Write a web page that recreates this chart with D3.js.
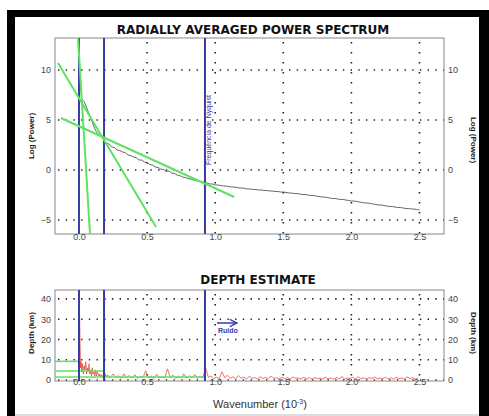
<!doctype html>
<html>
<head>
<meta charset="utf-8">
<script src="https://cdnjs.cloudflare.com/ajax/libs/d3/7.8.5/d3.min.js"></script>
<style>
  body { margin: 0; background: #fff; }
  .tick text { font-family: "Liberation Sans", Arial, sans-serif; font-size: 9px; fill: #444; }
  .title { font-family: "DejaVu Sans", Verdana, sans-serif; font-weight: bold; font-size: 12px; fill: #111; }
  .ylab { font-family: "Liberation Sans", Arial, sans-serif; font-weight: bold; font-size: 8px; fill: #222; }
</style>
</head>
<body>
<svg width="489" height="416"></svg>
<script>
// wavenumber ticks and gridlines
var kTicks = [0, 0.5, 1.0, 1.5, 2.0, 2.5];
var powerTicks = [-5, 0, 5, 10];
var depthTicks = [0, 10, 20, 30, 40];

// blue markers (interval limits and Nyquist)
var cutoffs = [0.0, 0.184, 0.925];

// radially averaged power spectrum, sampled every 0.02
var specStep = 0.02;
var specPower = [10.6, 7.1, 6.8, 6.1, 5.4, 4.7, 4.0, 3.6, 3.4, 3.1,
  2.7, 2.6, 2.3, 2.25, 2.0, 1.95, 1.8, 1.75, 1.5, 1.45,
  1.3, 1.25, 1.0, 1.0, 0.8, 0.75, 0.55, 0.5, 0.3, 0.25,
  0.1, 0.05, -0.15, -0.1, -0.3, -0.35, -0.5, -0.55, -0.7, -0.75,
  -0.85, -0.9, -1.0, -1.05, -1.15, -1.15, -1.25, -1.3, -1.4, -1.4,
  -1.5, -1.5, -1.55, -1.6, -1.6, -1.65, -1.7, -1.7, -1.75, -1.8,
  -1.8, -1.85, -1.9, -1.9, -1.95, -1.95, -2.0, -2.0, -2.05, -2.05,
  -2.1, -2.1, -2.15, -2.15, -2.2, -2.2, -2.25, -2.3, -2.3, -2.35,
  -2.35, -2.4, -2.45, -2.45, -2.5, -2.55, -2.55, -2.6, -2.65, -2.7,
  -2.7, -2.75, -2.8, -2.85, -2.85, -2.9, -2.95, -2.95, -3.0, -3.05,
  -3.1, -3.1, -3.15, -3.2, -3.25, -3.3, -3.3, -3.35, -3.4, -3.45,
  -3.5, -3.5, -3.55, -3.6, -3.65, -3.65, -3.7, -3.75, -3.75, -3.8,
  -3.85, -3.85, -3.9, -3.9, -3.95, -4.0];

// fitted straight segments on the spectrum
var fitK0 = [-0.007, -0.154, -0.132];
var fitP0 = [13.2, 10.7, 5.2];
var fitK1 = [0.081, 0.566, 1.14];
var fitP1 = [-6.4, -5.7, -2.7];

// depth estimate, near the origin (irregular samples)
var depthNearK = [0.000, 0.004, 0.008, 0.012, 0.016, 0.020, 0.026, 0.032, 0.038, 0.044,
  0.050, 0.056, 0.062, 0.068, 0.074, 0.080, 0.086, 0.092, 0.098, 0.104,
  0.110, 0.116, 0.122, 0.128, 0.134, 0.140, 0.146, 0.152, 0.158, 0.164,
  0.170, 0.176, 0.182, 0.188, 0.194, 0.200];
var depthNear = [0, 33, 18, 6, 9, 4, 8, 3, 7, 5,
  9, 3, 6, 4, 8, 3, 5, 2, 6, 3,
  4, 2, 5, 2, 4, 3, 2, 3, 1.5, 2.5,
  1.5, 2, 4, 1, 3, 1.5];
// depth estimate from 0.21 on, every 0.02
var depthFarStart = 0.21;
var depthFarStep = 0.02;
var depthFar = [2.5, 1, 3, 1.5, 2, 0.8, 3, 1.2, 2.2, 1,
  2.6, 0.8, 1.8, 1.2, 4.5, 1, 2, 0.7, 2.8, 1,
  1.6, 0.9, 5.5, 1.2, 2.4, 0.8, 1.9, 1.1, 3, 0.9,
  2.1, 1, 2.7, 0.8, 1.7, 1, 6, 1.3, 2, 0.6,
  1.4, 0.7, 4, 1.2, 2.3, 0.8, 1.6, 0.6, 2.2, 0.9,
  1.4, 0.5, 1.8, 0.8, 1.2, 0.5, 1.6, 0.7, 1.3, 0.6,
  2, 0.8, 1.1, 0.5, 1.4, 0.7, 1.2, 0.4, 1.5, 0.8,
  1, 0.5, 1.3, 0.6, 1.1, 0.4, 1.2, 0.7, 0.9, 0.5,
  1.3, 0.6, 1, 0.4, 1.2, 0.6, 1.7, 0.5, 1.1, 0.7,
  1.3, 0.5, 1.6, 0.6, 1.1, 0.4, 1.2, 0.7, 1.5, 0.5,
  1, 0.6, 1.4, 0.5, 1.1, 0.4, 1.3, 0.6, 1, 0.5,
  1.5, 0.6, 1.2, 0.4, 0.9];

// depth levels of the fitted segments
var levelDepth = [9.2, 4.4, 1.5];
var levelEnd = [0.0, 0.184, 0.925];

var svg = d3.select("svg");

// outer black frame
svg.append("rect").attr("x", 7).attr("y", 10).attr("width", 482).attr("height", 406).attr("fill", "#000");
svg.append("rect").attr("x", 15).attr("y", 17).attr("width", 464).attr("height", 397).attr("fill", "#fff");
svg.append("rect").attr("x", 15).attr("y", 414).attr("width", 464).attr("height", 2).attr("fill", "#ddd");

var left = 55, right = 444;
var x = d3.scaleLinear().domain([-0.176, 2.68]).range([left, right]);
var yTop = d3.scaleLinear().domain([-6.4, 13.2]).range([234, 38]);
var yBot = d3.scaleLinear().domain([-0.5, 44.4]).range([381, 290]);

svg.append("defs").selectAll("clipPath")
  .data([["clipTop", yTop], ["clipBot", yBot]])
  .enter().append("clipPath").attr("id", function (d) { return d[0]; })
  .append("rect")
  .attr("x", left).attr("width", right - left)
  .attr("y", function (d) { return d[1].range()[1]; })
  .attr("height", function (d) { return d[1].range()[0] - d[1].range()[1]; });

function panel(y, hTicks, dotV, clipId) {
  var g = svg.append("g");
  var y0 = y.range()[0], y1 = y.range()[1];
  // dotted grid
  g.selectAll(".hg").data(hTicks).enter().append("line")
    .attr("x1", left + 3).attr("x2", right)
    .attr("y1", function (d) { return y(d); }).attr("y2", function (d) { return y(d); })
    .attr("stroke", "#222").attr("stroke-width", 1.6).attr("stroke-dasharray", "1.4,6.3");
  g.selectAll(".vg").data(kTicks).enter().append("line")
    .attr("x1", function (d) { return x(d); }).attr("x2", function (d) { return x(d); })
    .attr("y1", y1 + 4).attr("y2", y0)
    .attr("stroke", "#222").attr("stroke-width", 1.6).attr("stroke-dasharray", "1.4," + (dotV - 1.4));
  // frame
  g.append("rect").attr("x", left).attr("y", y1).attr("width", right - left).attr("height", y0 - y1)
    .attr("fill", "none").attr("stroke", "#888").attr("stroke-width", 1);
  // axes
  var ax = g.append("g").attr("transform", "translate(" + left + ",0)")
    .call(d3.axisLeft(y).tickValues(hTicks).tickSize(0).tickPadding(4));
  var ay = g.append("g").attr("transform", "translate(" + right + ",0)")
    .call(d3.axisRight(y).tickValues(hTicks).tickSize(0).tickPadding(4));
  ax.select(".domain").remove();
  ay.select(".domain").remove();
  return g;
}

// ---------- top: power spectrum ----------
var gt = panel(yTop, powerTicks, 10, "clipTop");
var bx = gt.append("g").attr("transform", "translate(0,234)")
  .call(d3.axisBottom(x).tickValues(kTicks).tickSize(0).tickPadding(0).tickFormat(d3.format(".1f")));
bx.select(".domain").remove();

var plotT = gt.append("g").attr("clip-path", "url(#clipTop)");
plotT.append("path")
  .datum(specPower)
  .attr("fill", "none").attr("stroke", "#555").attr("stroke-width", 0.9)
  .attr("d", d3.line().x(function (d, i) { return x(i * specStep); }).y(function (d) { return yTop(d); }));
plotT.selectAll(".cut").data(cutoffs).enter().append("line")
  .attr("x1", function (d) { return x(d); }).attr("x2", function (d) { return x(d); })
  .attr("y1", 38).attr("y2", 234)
  .attr("stroke", "#3a3aa6").attr("stroke-width", 2);
plotT.selectAll(".fit").data(fitK0).enter().append("line")
  .attr("x1", function (d) { return x(d); })
  .attr("y1", function (d, i) { return yTop(fitP0[i]); })
  .attr("x2", function (d, i) { return x(fitK1[i]); })
  .attr("y2", function (d, i) { return yTop(fitP1[i]); })
  .attr("stroke", "#5fe35f").attr("stroke-width", 2);

svg.append("text").attr("class", "title").attr("x", 253).attr("y", 34).attr("text-anchor", "middle")
  .text("RADIALLY AVERAGED POWER SPECTRUM");
svg.append("text").attr("class", "ylab").attr("text-anchor", "middle")
  .attr("transform", "translate(34,136) rotate(-90)").text("Log (Power)");
svg.append("text").attr("class", "ylab").attr("text-anchor", "middle")
  .attr("transform", "translate(471,140) rotate(90)").text("Log (Power)");
svg.append("text")
  .attr("transform", "translate(" + (x(cutoffs[2]) + 6.5) + ",165) rotate(-90)")
  .attr("font-family", "Liberation Sans, Arial, sans-serif").attr("font-size", 7).attr("fill", "#3a3aa6")
  .text("Frequência de Nyquist");

// ---------- bottom: depth estimate ----------
var gb = panel(yBot, depthTicks, 10, "clipBot");
var bx2 = gb.append("g").attr("transform", "translate(0,380)")
  .call(d3.axisBottom(x).tickValues(kTicks).tickSize(0).tickPadding(-1).tickFormat(d3.format(".1f")));
bx2.select(".domain").remove();

var plotB = gb.append("g").attr("clip-path", "url(#clipBot)");
var depthPts = depthNearK.map(function (k, i) { return [k, depthNear[i]]; })
  .concat(depthFar.map(function (d, i) { return [depthFarStart + i * depthFarStep, d]; }));
plotB.append("path")
  .datum(depthPts)
  .attr("fill", "none").attr("stroke", "#e0302a").attr("stroke-width", 0.8).attr("stroke-opacity", 0.85)
  .attr("d", d3.line().x(function (d) { return x(d[0]); }).y(function (d) { return yBot(d[1]); }));
plotB.selectAll(".lvl").data(levelDepth).enter().append("line")
  .attr("x1", left).attr("x2", function (d, i) { return x(levelEnd[i]); })
  .attr("y1", function (d) { return yBot(d); }).attr("y2", function (d) { return yBot(d); })
  .attr("stroke", "#5fe35f").attr("stroke-width", 1.6);
plotB.selectAll(".cut").data(cutoffs).enter().append("line")
  .attr("x1", function (d) { return x(d); }).attr("x2", function (d) { return x(d); })
  .attr("y1", 290).attr("y2", 381)
  .attr("stroke", "#3a3aa6").attr("stroke-width", 2);

// noise arrow
svg.append("defs").append("marker").attr("id", "arr").attr("viewBox", "0 0 10 10")
  .attr("refX", 9).attr("refY", 5).attr("markerWidth", 6).attr("markerHeight", 6).attr("orient", "auto")
  .append("path").attr("d", "M1,1 L9,5 L1,9").attr("fill", "none").attr("stroke", "#3a3aa6").attr("stroke-width", 1.5);
svg.append("line").attr("x1", 217).attr("x2", 237).attr("y1", 323).attr("y2", 323)
  .attr("stroke", "#3a3aa6").attr("stroke-width", 1.5).attr("marker-end", "url(#arr)");
svg.append("text").attr("x", 218).attr("y", 333)
  .attr("font-family", "Liberation Sans, Arial, sans-serif").attr("font-size", 7).attr("font-weight", "bold")
  .attr("fill", "#3a3aa6").text("Ruido");

svg.append("text").attr("class", "title").attr("x", 258).attr("y", 284).attr("text-anchor", "middle")
  .text("DEPTH ESTIMATE");
svg.append("text").attr("class", "ylab").attr("text-anchor", "middle")
  .attr("transform", "translate(34,333) rotate(-90)").text("Depth (km)");
svg.append("text").attr("class", "ylab").attr("text-anchor", "middle")
  .attr("transform", "translate(471,333) rotate(90)").text("Depth (km)");

var wl = svg.append("text").attr("x", 260).attr("y", 408).attr("text-anchor", "middle")
  .attr("font-family", "Liberation Sans, Arial, sans-serif").attr("font-size", 11).attr("fill", "#333");
wl.append("tspan").text("Wavenumber (10");
wl.append("tspan").attr("dy", -4).attr("font-size", 7).text("-3");
wl.append("tspan").attr("dy", 4).text(")");
</script>
</body>
</html>
